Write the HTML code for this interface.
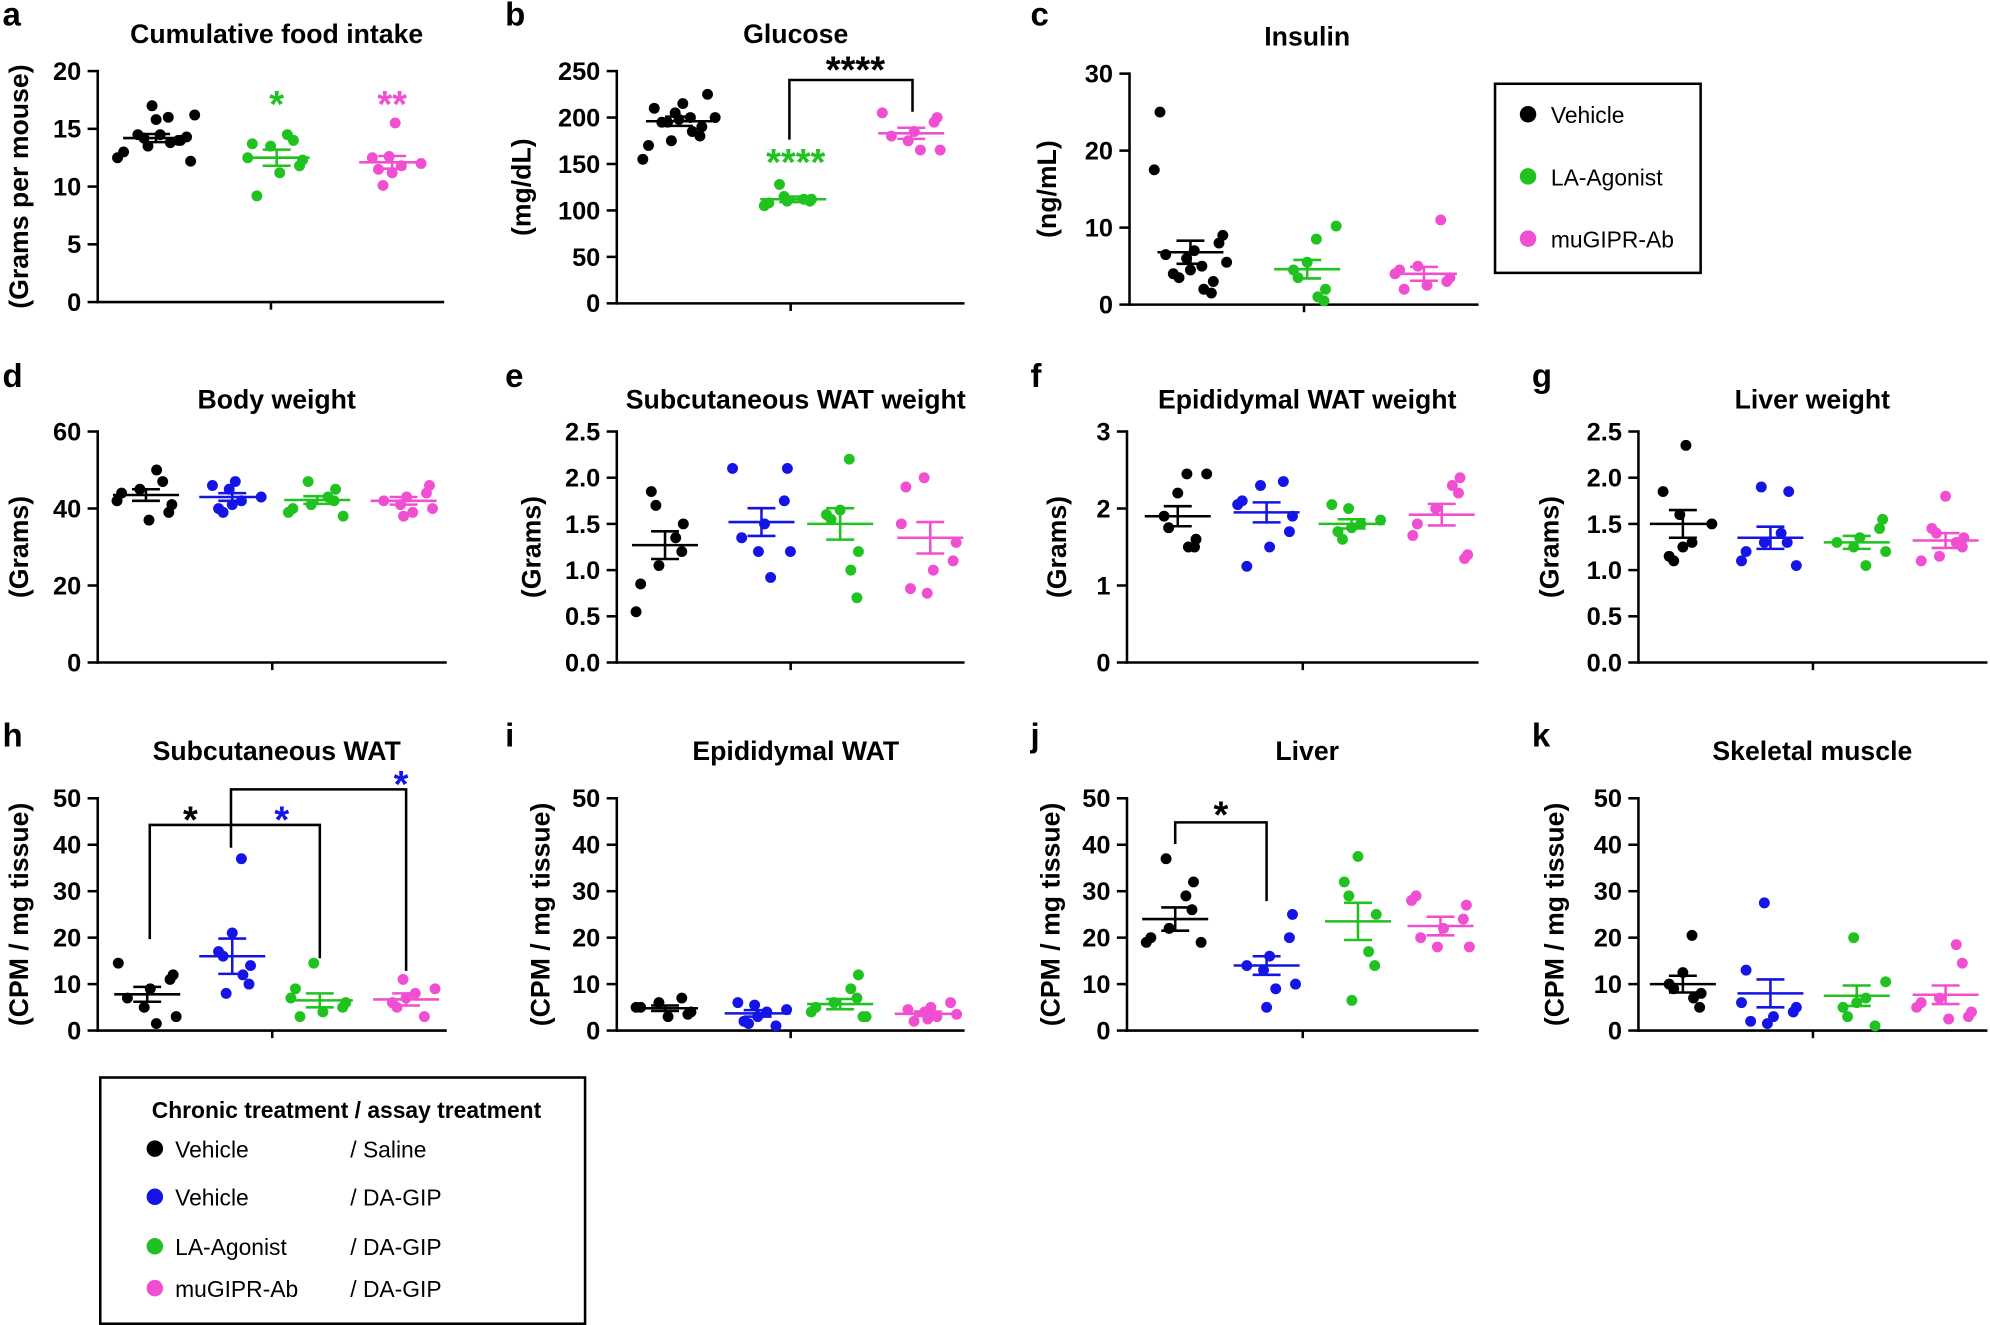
<!DOCTYPE html>
<html><head><meta charset="utf-8"><style>
html,body{margin:0;padding:0;background:#fff;}
svg{display:block;}
text{font-family:"Liberation Sans",Arial,sans-serif;}
</style></head><body>
<svg id="s" width="1990" height="1325" viewBox="0 0 1568 1044" xmlns="http://www.w3.org/2000/svg"></svg>
<script>
const K='#000',B='#1414e6',G='#1fc21f',P='#f04fd2';
const s=document.getElementById('s');let h='';
function T(x,y,t,o){o=o||{};h+=`<text x="${x}" y="${y}" font-size="${o.fs||19}" font-weight="${o.w||'bold'}" fill="${o.c||'#000'}" text-anchor="${o.a||'middle'}" ${o.r?`transform="rotate(-90 ${x} ${y})"`:''}>${t}</text>`;}
function L(x1,y1,x2,y2,c,w){h+=`<line x1="${x1}" y1="${y1}" x2="${x2}" y2="${y2}" stroke="${c||'#000'}" stroke-width="${w||2}"/>`;}
const JIT=[-0.1,0.75,-0.8,0.35,-0.45,0.95,0.1,-0.95,0.55,-0.3,0.3,-0.65,0.85,-0.2,0.6,0.0];
function panel(p,k){
 const {x0,x1,yt,yb,ymax,ticks,fmt}=p;const Y=v=>yb-(v/ymax)*(yb-yt);
 L(x0,yt-1,x0,yb+1);L(x0-1,yb,x1,yb);L((x0+x1)/2,yb,(x0+x1)/2,yb+6);
 ticks.forEach(t=>{const y=Y(t);L(x0-8,y,x0,y);T(x0-13,y+7,fmt?fmt(t):t,{a:'end',fs:20});});
 T(p.tx,yt-26+(p.tdy||0),p.title,{fs:21});
 T(p.lx,p.ly,p.letter,{fs:26,a:'start'});
 T(x0-50+(p.yloff||0),(yt+yb)/2,p.ylab,{fs:21,r:1});
 p.g.forEach((g,gi)=>{const sp=g.sp||24;
  g.v.forEach((v,i)=>{const x=g.cx+JIT[(i*5+gi*3+k)%JIT.length]*sp;
   h+=`<circle cx="${x.toFixed(1)}" cy="${Y(v).toFixed(1)}" r="4.3" fill="${g.c}"/>`;});
  const m=Y(g.m),hi=Y(g.m+g.s),lo=Y(g.m-g.s);const c=g.c;
  L(g.cx-26,m,g.cx+26,m,c,2);L(g.cx,hi,g.cx,lo,c,2);L(g.cx-11,hi,g.cx+11,hi,c,2);L(g.cx-11,lo,g.cx+11,lo,c,2);
 });
}
const f1=t=>t.toFixed(1);
const P_=[];
P_.push({x0:77,x1:350,yt:56,yb:238,ymax:20,ticks:[0,5,10,15,20],title:'Cumulative food intake',tx:218,tdy:4,lx:2,ly:20,letter:'a',ylab:'(Grams per mouse)',yloff:-5,
g:[{cx:123,c:K,sp:32,v:[17,16.2,16,15.8,14.5,14.2,14,13.8,14,13.5,13,12.5,12.2,14.3,14.5],m:14.2,s:0.35},
{cx:218,c:G,v:[14.5,14,13.5,13.7,12.5,12.3,11.8,11.2,9.2],m:12.5,s:0.7},
{cx:309,c:P,v:[15.5,12.5,12.6,12,11.8,11.2,11.5,10.1],m:12.1,s:0.55}]});
P_.push({x0:486,x1:760,yt:56,yb:239,ymax:250,ticks:[0,50,100,150,200,250],title:'Glucose',tx:627,tdy:4,lx:398,ly:20,letter:'b',ylab:'(mg/dL)',yloff:-18,
g:[{cx:535,c:K,sp:30,v:[225,215,210,205,200,200,198,195,195,190,185,180,175,170,155],m:196,s:5},
{cx:625,c:G,v:[128,115,112,112,110,110,108,105],m:112,s:3},
{cx:718,c:P,v:[205,200,195,185,180,175,165,165],m:183,s:6}]});
P_.push({x0:890,x1:1165,yt:58,yb:240,ymax:30,ticks:[0,10,20,30],title:'Insulin',tx:1030,tdy:4,lx:812,ly:20,letter:'c',ylab:'(ng/mL)',yloff:-8,
g:[{cx:938,c:K,sp:30,v:[25,17.5,9,8,7,6.5,6,5.5,5,4.5,4,3.5,3,2,1.5],m:6.8,s:1.5},
{cx:1030,c:G,v:[10.2,8.5,5.5,4.5,3.5,2,1,0.5],m:4.6,s:1.2},
{cx:1122,c:P,v:[11,5,4.5,4,3.5,3,2.5,2],m:4,s:0.9}]});
P_.push({x0:77,x1:352,yt:340,yb:522,ymax:60,ticks:[0,20,40,60],title:'Body weight',tx:218,tdy:8,lx:2,ly:305,letter:'d',ylab:'(Grams)',yloff:-5,
g:[{cx:115,c:K,v:[50,47,45,44,42,41,39,37],m:43.5,s:1.5},{cx:183,c:B,v:[47,46,45,43,42,41,40,39],m:43,s:1},
{cx:250,c:G,v:[47,45,43,42,41,40,39,38],m:42.2,s:1},{cx:318,c:P,v:[46,44,43,42,41,40,39,38],m:42,s:1}]});
P_.push({x0:486,x1:760,yt:340,yb:522,ymax:2.5,ticks:[0,.5,1,1.5,2,2.5],fmt:f1,title:'Subcutaneous WAT weight',tx:627,tdy:8,lx:398,ly:305,letter:'e',ylab:'(Grams)',yloff:-10,
g:[{cx:524,c:K,v:[1.85,1.7,1.5,1.35,1.2,1.05,0.85,0.55],m:1.27,s:0.15},{cx:600,c:B,v:[2.1,2.1,1.75,1.5,1.35,1.2,1.2,0.92],m:1.52,s:0.15},
{cx:662,c:G,v:[2.2,1.65,1.6,1.55,1.2,1.0,0.7],m:1.5,s:0.17},{cx:733,c:P,v:[2.0,1.9,1.5,1.3,1.1,1.0,0.8,0.75],m:1.35,s:0.17}]});
P_.push({x0:888,x1:1165,yt:340,yb:522,ymax:3,ticks:[0,1,2,3],title:'Epididymal WAT weight',tx:1030,tdy:8,lx:812,ly:305,letter:'f',ylab:'(Grams)',yloff:2,
g:[{cx:928,c:K,v:[2.45,2.45,2.2,1.9,1.75,1.6,1.5,1.5],m:1.9,s:0.13},{cx:998,c:B,v:[2.35,2.3,2.1,2.05,1.9,1.7,1.5,1.25],m:1.95,s:0.13},
{cx:1065,c:G,v:[2.05,2.0,1.85,1.8,1.75,1.7,1.6],m:1.8,s:0.06},{cx:1136,c:P,v:[2.4,2.3,2.2,2.0,1.8,1.65,1.4,1.35],m:1.92,s:0.14}]});
P_.push({x0:1291,x1:1566,yt:340,yb:522,ymax:2.5,ticks:[0,.5,1,1.5,2,2.5],fmt:f1,title:'Liver weight',tx:1428,tdy:8,lx:1207,ly:305,letter:'g',ylab:'(Grams)',yloff:-13,
g:[{cx:1326,c:K,v:[2.35,1.85,1.6,1.5,1.3,1.25,1.15,1.1],m:1.5,s:0.15},{cx:1395,c:B,v:[1.9,1.85,1.4,1.3,1.3,1.2,1.1,1.05],m:1.35,s:0.12},
{cx:1463,c:G,v:[1.55,1.45,1.35,1.3,1.25,1.2,1.05],m:1.3,s:0.07},{cx:1533,c:P,v:[1.8,1.45,1.4,1.35,1.3,1.25,1.15,1.1],m:1.32,s:0.08}]});
const t50=[0,10,20,30,40,50];
P_.push({x0:77,x1:352,yt:629,yb:812,ymax:50,ticks:t50,title:'Subcutaneous WAT',tx:218,tdy:-4,lx:2,ly:588,letter:'h',ylab:'(CPM / mg tissue)',yloff:-5,
g:[{cx:116,c:K,v:[14.5,12,11,9,7,5,3,1.5],m:7.8,s:1.6},{cx:183,c:B,v:[37,21,17,16,14,12,10,8],m:16,s:3.8},
{cx:252,c:G,v:[14.5,9,7,6,5,4,3],m:6.5,s:1.5},{cx:320,c:P,v:[11,9,8,7,6,5,3],m:6.7,s:1.3}]});
P_.push({x0:486,x1:760,yt:629,yb:812,ymax:50,ticks:t50,title:'Epididymal WAT',tx:627,tdy:-4,lx:398,ly:588,letter:'i',ylab:'(CPM / mg tissue)',yloff:-3,
g:[{cx:524,c:K,v:[7,6,5,5,4,3.5,3],m:4.8,s:0.6},{cx:597,c:B,v:[6,5.5,4.5,4,3,2,1.5,1],m:3.7,s:0.7},
{cx:662,c:G,v:[12,9,7,6,5,4,3,3],m:5.7,s:1.1},{cx:731,c:P,v:[6,5,4.5,4,3.5,3,2.5,2],m:3.6,s:0.5}]});
P_.push({x0:888,x1:1165,yt:629,yb:812,ymax:50,ticks:t50,title:'Liver',tx:1030,tdy:-4,lx:812,ly:588,letter:'j',ylab:'(CPM / mg tissue)',yloff:-3,
g:[{cx:926,c:K,v:[37,32,29,26,22,20,19,19],m:24,s:2.5},{cx:998,c:B,v:[25,20,16,14,13,10,9,5],m:14,s:2},
{cx:1070,c:G,v:[37.5,32,29,25,17,14,6.5],m:23.5,s:4},{cx:1135,c:P,v:[29,28,27,24,22,20,18,18],m:22.5,s:2}]});
P_.push({x0:1291,x1:1566,yt:629,yb:812,ymax:50,ticks:t50,title:'Skeletal muscle',tx:1428,tdy:-4,lx:1207,ly:588,letter:'k',ylab:'(CPM / mg tissue)',yloff:-9,
g:[{cx:1326,c:K,v:[20.5,12.5,10,9,8,7,5],m:10,s:1.8},{cx:1395,c:B,v:[27.5,13,6,5,4,3,2,1.5],m:8,s:3},
{cx:1463,c:G,v:[20,10.5,7,6,5,3,1],m:7.5,s:2.2},{cx:1533,c:P,v:[18.5,14.5,7,6,5,4,3,2.5],m:7.7,s:2}]});
P_.forEach((p,k)=>panel(p,k));
T(218,92,'*',{c:G,fs:30});T(309,92,'**',{c:P,fs:30});
T(627,138,'****',{c:G,fs:30});
h+=`<polyline points="622,110 622,63 719,63 719,88" fill="none" stroke="#000" stroke-width="2"/>`;T(674,65,'****',{fs:30});
h+=`<polyline points="118,740 118,650 252,650 252,755" fill="none" stroke="#000" stroke-width="2"/>`;T(150,656,'*',{fs:30});
h+=`<polyline points="182,668 182,622 320,622 320,765" fill="none" stroke="#000" stroke-width="2"/>`;T(222,656,'*',{fs:30,c:B});T(316,628,'*',{fs:30,c:B});
h+=`<polyline points="926,665 926,648 998,648 998,710" fill="none" stroke="#000" stroke-width="2"/>`;T(962,652,'*',{fs:30});
h+=`<rect x="1178" y="66" width="162" height="149" fill="none" stroke="#000" stroke-width="2"/>`;
[[K,'Vehicle',90],[G,'LA-Agonist',139],[P,'muGIPR-Ab',188]].forEach(([c,t,y])=>{h+=`<circle cx="1204" cy="${y}" r="6.5" fill="${c}"/>`;T(1222,y+7,t,{a:'start',w:'normal',fs:18});});
h+=`<rect x="79" y="849" width="382" height="194" fill="none" stroke="#000" stroke-width="2"/>`;
T(273,881,'Chronic treatment / assay treatment',{fs:18});
[[K,'Vehicle','/ Saline',905],[B,'Vehicle','/ DA-GIP',943],[G,'LA-Agonist','/ DA-GIP',982],[P,'muGIPR-Ab','/ DA-GIP',1015]].forEach(([c,a,b,y])=>{h+=`<circle cx="122" cy="${y}" r="6.5" fill="${c}"/>`;T(138,y+7,a,{a:'start',w:'normal',fs:18});T(276,y+7,b,{a:'start',w:'normal',fs:18});});
s.innerHTML=h;
</script>
</body></html>
